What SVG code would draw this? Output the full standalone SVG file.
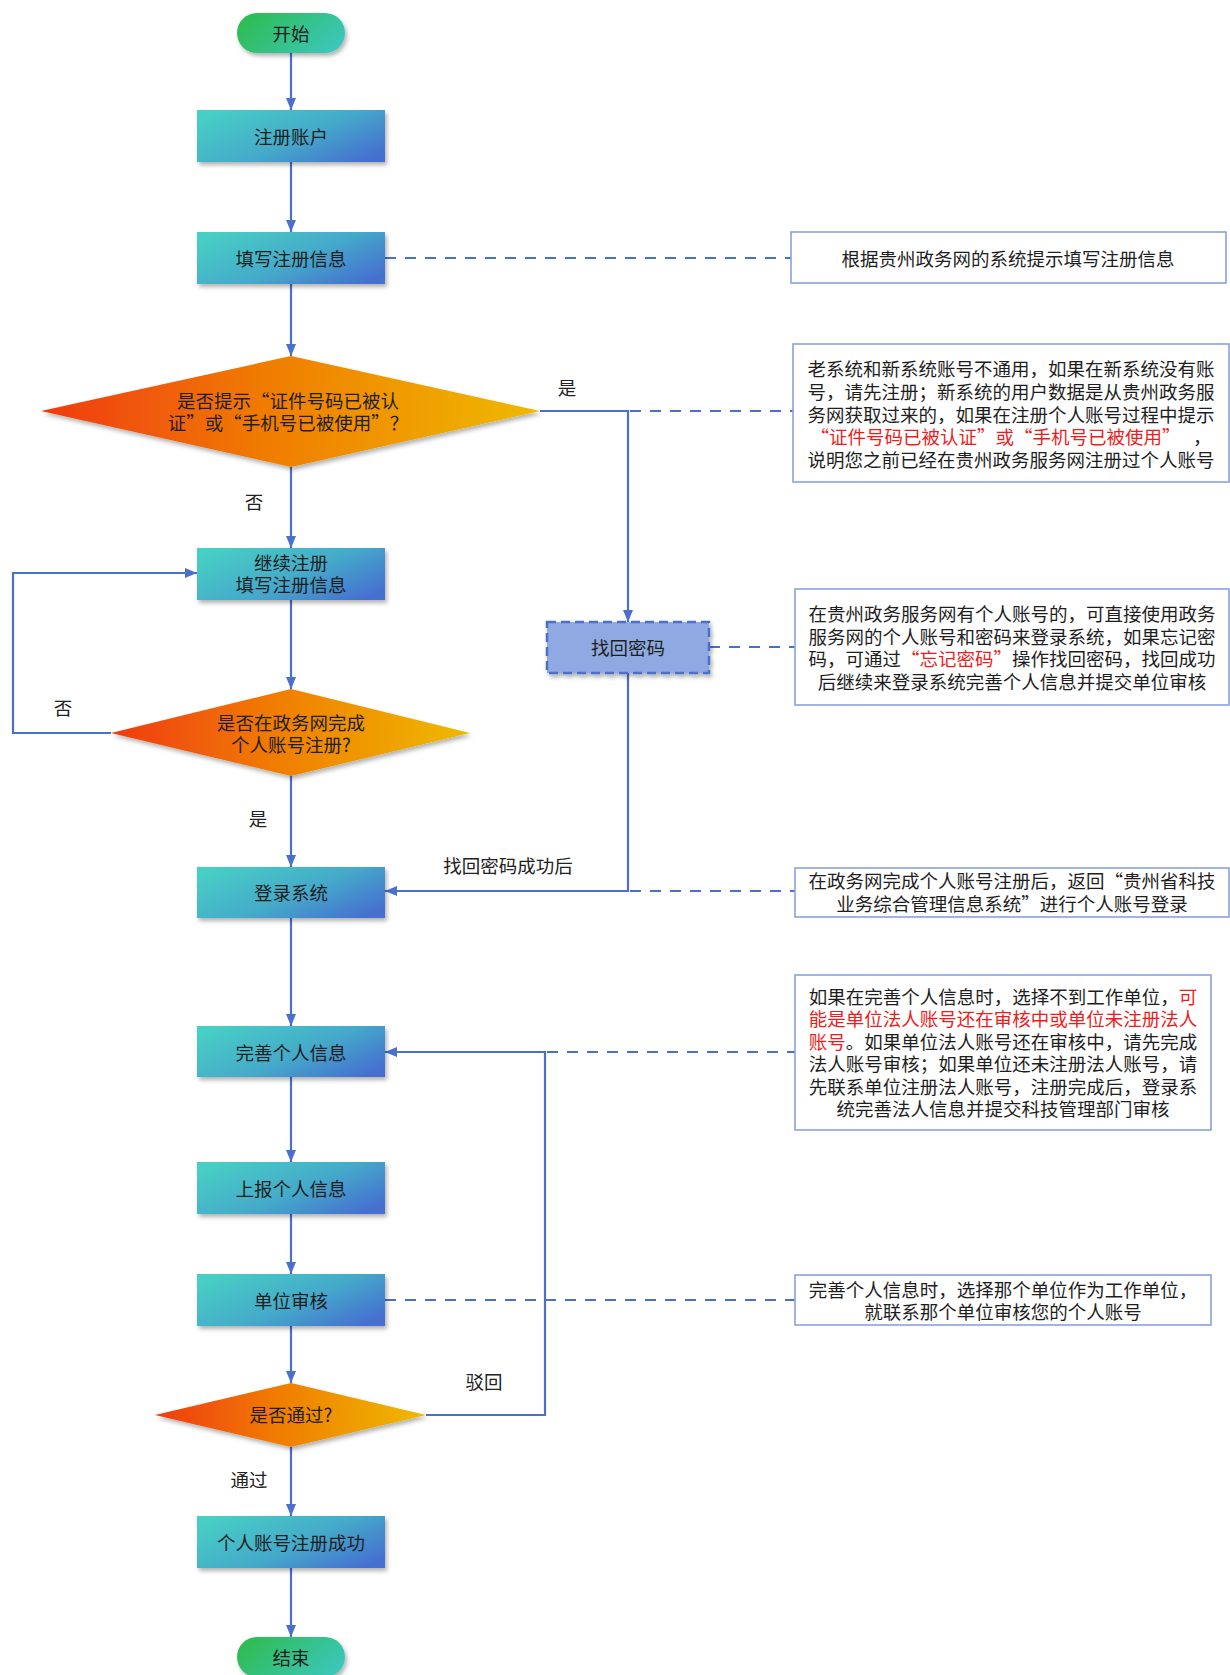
<svg xmlns="http://www.w3.org/2000/svg" width="1230" height="1675" viewBox="0 0 1230 1675">
<style>
text{font-family:"Noto Sans CJK SC","Noto Sans",sans-serif;font-size:18.5px;fill:#1e1e1e;dominant-baseline:central;text-anchor:middle}
.box{fill:url(#gBox);filter:url(#sh)}
.dia{fill:url(#gDia);filter:url(#sh)}
.pill{fill:url(#gPill);filter:url(#sh)}
.note{fill:#fff;stroke:#8AA2DE;stroke-width:1.6}
.ln{fill:none;stroke:#4A70CC;stroke-width:2.2}
.arr{marker-end:url(#ah)}
.dash{fill:none;stroke:#4A70CC;stroke-width:2.2;stroke-dasharray:11 9}
.red{fill:#ee1c1c}
.lbl{fill:#222}
</style>
<defs>
<linearGradient id="gBox" x1="0" y1="0.2" x2="1" y2="0.8">
<stop offset="0" stop-color="#46CEC5"/><stop offset="0.55" stop-color="#45A9CA"/><stop offset="1" stop-color="#4570D0"/>
</linearGradient>
<linearGradient id="gDia" x1="0" y1="0" x2="1" y2="0">
<stop offset="0" stop-color="#F03A08"/><stop offset="0.45" stop-color="#F07C06"/><stop offset="1" stop-color="#EFBA02"/>
</linearGradient>
<linearGradient id="gPill" x1="0" y1="0.3" x2="1" y2="0.7">
<stop offset="0" stop-color="#2EBC52"/><stop offset="1" stop-color="#3BC7BC"/>
</linearGradient>
<filter id="sh" x="-10%" y="-20%" width="125%" height="150%">
<feDropShadow dx="2" dy="3" stdDeviation="2.2" flood-color="#000" flood-opacity="0.3"/>
</filter>
<marker id="ah" markerUnits="userSpaceOnUse" markerWidth="12" markerHeight="10" refX="12" refY="5" orient="auto">
<path d="M0,0 L12,5 L0,10 z" fill="#4A70CC"/>
</marker>
</defs>

<g id="connectors">
<path class="ln arr" d="M291,53 V110"/>
<path class="ln arr" d="M291,162 V232"/>
<path class="ln arr" d="M291,284 V356"/>
<path class="ln arr" d="M291,467 V548"/>
<path class="ln arr" d="M291,600 V689"/>
<path class="ln arr" d="M291,776 V867"/>
<path class="ln arr" d="M111,733 H13 V573 H197"/>
<path class="ln arr" d="M540,411 H628 V622"/>
<path class="ln arr" d="M628,673 V891 H385"/>
<path class="ln arr" d="M291,918 V1026"/>
<path class="ln arr" d="M291,1077 V1162"/>
<path class="ln arr" d="M291,1214 V1274"/>
<path class="ln arr" d="M291,1326 V1383"/>
<path class="ln arr" d="M426,1415 H545 V1052 H385"/>
<path class="ln arr" d="M291,1447 V1516"/>
<path class="ln arr" d="M291,1568 V1637"/>
<path class="dash" d="M385,258 H791"/>
<path class="dash" d="M630,411 H793"/>
<path class="dash" d="M709,647 H795"/>
<path class="dash" d="M630,891 H795"/>
<path class="dash" d="M547,1052 H795"/>
<path class="dash" d="M385,1300 H795"/>
<text class="lbl" x="567" y="387">是</text>
<text class="lbl" x="254" y="501">否</text>
<text class="lbl" x="63" y="707">否</text>
<text class="lbl" x="258" y="818">是</text>
<text class="lbl" x="508" y="865">找回密码成功后</text>
<text class="lbl" x="484" y="1381">驳回</text>
<text class="lbl" x="249" y="1479">通过</text>
</g>

<g id="start"><rect class="pill" x="237" y="13" width="108" height="40" rx="20"/><text x="291" y="33">开始</text></g>
<g id="n-register"><rect class="box" x="197" y="110" width="188" height="52"/><text x="291" y="136">注册账户</text></g>
<g id="n-fill"><rect class="box" x="197" y="232" width="188" height="52"/><text x="291" y="258">填写注册信息</text></g>
<g id="d-prompt"><polygon class="dia" points="291,356 540,411 291,467 41,411"/><text x="288" y="400">是否提示“证件号码已被认</text><text x="288" y="422">证”或“手机号已被使用”？</text></g>
<g id="n-continue"><rect class="box" x="197" y="548" width="188" height="52"/><text x="291" y="562">继续注册</text><text x="291" y="584">填写注册信息</text></g>
<g id="n-recover"><rect x="547" y="622" width="162" height="51" fill="#8FAAE2" stroke="#4A70CC" stroke-width="2.5" stroke-dasharray="9 5" filter="url(#sh)"/><text x="628" y="647">找回密码</text></g>
<g id="d-done"><polygon class="dia" points="291,689 470,733 291,776 111,733"/><text x="291" y="722">是否在政务网完成</text><text x="291" y="744">个人账号注册?</text></g>
<g id="n-login"><rect class="box" x="197" y="867" width="188" height="51"/><text x="291" y="892">登录系统</text></g>
<g id="n-complete"><rect class="box" x="197" y="1026" width="188" height="51"/><text x="291" y="1052">完善个人信息</text></g>
<g id="n-report"><rect class="box" x="197" y="1162" width="188" height="52"/><text x="291" y="1188">上报个人信息</text></g>
<g id="n-unit"><rect class="box" x="197" y="1274" width="188" height="52"/><text x="291" y="1300">单位审核</text></g>
<g id="d-pass"><polygon class="dia" points="291,1383 426,1415 291,1447 155,1415"/><text x="291" y="1414">是否通过?</text></g>
<g id="n-success"><rect class="box" x="197" y="1516" width="188" height="52"/><text x="291" y="1542">个人账号注册成功</text></g>
<g id="end"><rect class="pill" x="237" y="1637" width="108" height="40" rx="20"/><text x="291" y="1657">结束</text></g>

<g id="note1"><rect class="note" x="791" y="232" width="435" height="51"/><text x="1008" y="258">根据贵州政务网的系统提示填写注册信息</text></g>
<g id="note2"><rect class="note" x="793" y="344" width="436" height="138"/>
<text x="1011" y="368">老系统和新系统账号不通用，如果在新系统没有账</text>
<text x="1011" y="391">号，请先注册；新系统的用户数据是从贵州政务服</text>
<text x="1011" y="414">务网获取过来的，如果在注册个人账号过程中提示</text>
<text x="1011" y="436" xml:space="preserve"><tspan class="red">“证件号码已被认证”或“手机号已被使用”</tspan>   ，</text>
<text x="1011" y="459">说明您之前已经在贵州政务服务网注册过个人账号</text>
</g>
<g id="note3"><rect class="note" x="795" y="589" width="434" height="116"/>
<text x="1012" y="613">在贵州政务服务网有个人账号的，可直接使用政务</text>
<text x="1012" y="636">服务网的个人账号和密码来登录系统，如果忘记密</text>
<text x="1012" y="658">码，可通过<tspan class="red">“忘记密码”</tspan>操作找回密码，找回成功</text>
<text x="1012" y="681">后继续来登录系统完善个人信息并提交单位审核</text>
</g>
<g id="note4"><rect class="note" x="795" y="868" width="434" height="49"/>
<text x="1012" y="880">在政务网完成个人账号注册后，返回“贵州省科技</text>
<text x="1012" y="903">业务综合管理信息系统”进行个人账号登录</text>
</g>
<g id="note5"><rect class="note" x="795" y="975" width="416" height="155"/>
<text x="1003" y="996">如果在完善个人信息时，选择不到工作单位，<tspan class="red">可</tspan></text>
<text x="1003" y="1018" class="red">能是单位法人账号还在审核中或单位未注册法人</text>
<text x="1003" y="1041"><tspan class="red">账号</tspan>。如果单位法人账号还在审核中，请先完成</text>
<text x="1003" y="1063">法人账号审核；如果单位还未注册法人账号，请</text>
<text x="1003" y="1086">先联系单位注册法人账号，注册完成后，登录系</text>
<text x="1003" y="1108">统完善法人信息并提交科技管理部门审核</text>
</g>
<g id="note6"><rect class="note" x="795" y="1275" width="416" height="50"/>
<text x="1003" y="1289">完善个人信息时，选择那个单位作为工作单位，</text>
<text x="1003" y="1311">就联系那个单位审核您的个人账号</text>
</g>
</svg>
